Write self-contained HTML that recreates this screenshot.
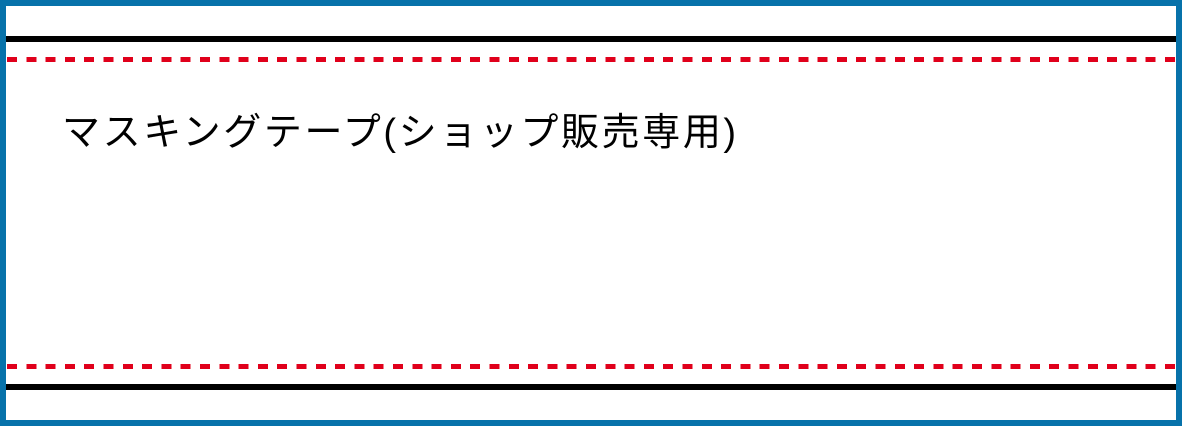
<!DOCTYPE html>
<html><head><meta charset="utf-8"><style>
html,body{margin:0;padding:0;background:#fff}
.w{position:relative;width:1182px;height:426px;overflow:hidden}
.b{position:absolute;left:0;top:0;width:1170px;height:414px;border:6px solid #0772aa}
.k{position:absolute;left:6px;width:1170px;height:6px;background:#000}
.r{position:absolute;left:7px;width:1169px;height:5px;background:repeating-linear-gradient(90deg,#e0001b 0 10px,transparent 10px 19.3px)}
.t{position:absolute;left:62px;top:101px;font:38px "Liberation Sans","Noto Sans CJK JP",sans-serif;letter-spacing:2.6px;color:#000;white-space:nowrap}
</style></head><body><div class="w">
<div class="b"></div>
<div class="k" style="top:36px"></div>
<div class="r" style="top:57px"></div>
<div class="r" style="top:364px"></div>
<div class="k" style="top:384px"></div>
<div class="t">マスキングテープ(ショップ販売専用)</div>
</div></body></html>
